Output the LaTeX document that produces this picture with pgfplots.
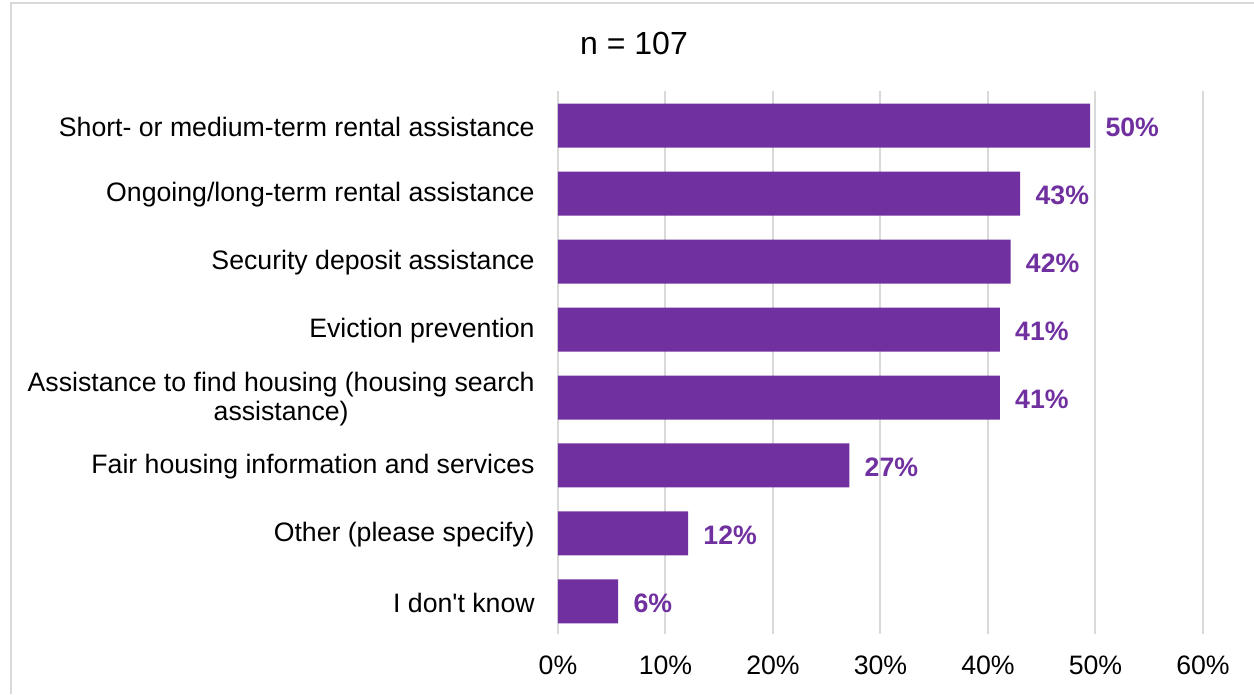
\documentclass[border=0pt]{standalone}
\usepackage{fontspec}
\setmainfont{Liberation Sans}
\usepackage{pgfplots}
\pgfplotsset{compat=1.18}
\definecolor{barpurple}{HTML}{7030A0}
\definecolor{gridgray}{HTML}{D9D9D9}
\begin{document}
\begin{tikzpicture}
\useasboundingbox (0,0) rectangle (940.5pt,520.5pt);
\draw[gridgray, line width=1.5pt] (8.25pt,0) -- (8.25pt,518.25pt) -- (940.5pt,518.25pt);
\node[font=\fontsize{24}{28}\selectfont] at (475.5pt,488.25pt) {n = 107};
\begin{axis}[
  at={(418.5pt,45pt)}, anchor=south west,
  scale only axis, width=483.75pt, height=407.25pt,
  xbar, bar width=33pt,
  xmin=0, xmax=60, ymin=-0.51, ymax=7.48, y dir=reverse,
  axis line style={draw=none}, major tick length=0pt,
  xmajorgrids, grid style={gridgray, line width=1.5pt},
  xtick={0,10,20,30,40,50,60},
  xticklabels={0\%,10\%,20\%,30\%,40\%,50\%,60\%},
  ytick={0,1,2,3,4,5,6,7},
  yticklabels={Short- or medium-term rental assistance,
    Ongoing/long-term rental assistance,
    Security deposit assistance,
    Eviction prevention,
    {Assistance to find housing (housing search\\assistance)},
    Fair housing information and services,
    Other (please specify),
    I don\textquotesingle t know},
  tick label style={font=\fontsize{20}{22}\selectfont},
  yticklabel style={align=center, xshift=-14pt, yshift=-1pt},
  xticklabel style={yshift=-12.5pt},
  nodes near coords, point meta=explicit symbolic,
  every node near coord/.append style={font=\fontsize{20}{22}\selectfont\bfseries, color=barpurple, anchor=west, xshift=8pt, yshift=-1.5pt},
]
\addplot[draw=none, fill=barpurple] table[meta=lab] {
x y lab
49.5 0 50\%
43.0 1 43\%
42.1 2 42\%
41.1 3 41\%
41.1 4 41\%
27.1 5 27\%
12.1 6 12\%
5.6 7 6\%
};
\end{axis}
\end{tikzpicture}
\end{document}
